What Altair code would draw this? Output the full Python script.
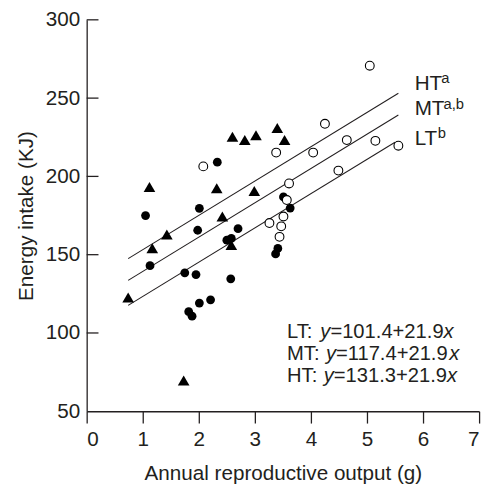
import altair as alt
import pandas as pd

# ---------------- data ----------------
tri_x = [0.74, 1.12, 1.17, 1.43, 1.73, 2.32, 2.42, 2.58, 2.60, 2.82, 3.02, 2.99, 3.40, 3.53]
tri_y = [122.7, 193.2, 154.1, 162.9, 69.7, 192.4, 174.4, 156.2, 225.3, 223.2, 226.3, 190.7, 230.9, 223.2]

fill_x = [1.05, 1.13, 1.75, 1.82, 1.88, 1.95, 2.01, 1.98, 2.01, 2.21, 2.33, 2.50, 2.58, 2.57, 2.70,
          3.37, 3.41, 3.51, 3.63]
fill_y = [175.0, 143.0, 138.4, 113.6, 110.7, 137.3, 179.6, 165.6, 119.1, 121.2, 209.1, 159.3, 160.4,
          134.6, 166.6, 150.5, 154.0, 186.9, 179.8]

open_x = [2.08, 3.38, 4.04, 4.25, 4.64, 5.05, 5.15, 5.56, 4.49, 3.61, 3.57, 3.51, 3.26, 3.47, 3.44]
open_y = [206.4, 215.2, 215.2, 233.6, 223.2, 270.7, 222.7, 219.6, 203.7, 195.5, 184.9, 174.4, 170.2,
          168.1, 161.4]

groups = ["LT", "MT", "HT"]
intercepts = [101.4, 117.4, 131.3]
slope = 21.9
line_start = [0.74, 0.74, 0.74]
line_end = [5.50, 5.56, 5.56]

label_names = ["HT", "MT", "LT"]
label_sups = ["a", "a,b", "b"]
label_x = 5.85
label_y = [255.0, 238.9, 220.0]

eq_names = ["LT", "MT", "HT"]
eq_consts = ["101.4", "117.4", "131.3"]
eq_slope = "21.9"
eq_x = 3.574
eq_y = [96.5, 82.7, 68.8]

X_TICKS = [0, 1, 2, 3, 4, 5, 6, 7]
Y_TICKS = [50, 100, 150, 200, 250, 300]

# ---------------- style ----------------
FONT = "Liberation Sans"
INK = "#231f20"
W = {' ': 278, ':': 278, '=': 584, '+': 584, '.': 278, ',': 278, 'L': 556, 'M': 833,
     'H': 722, 'T': 611, 'y': 500, 'x': 500, 'a': 556, 'b': 556}


def text_width(s, fs):
    return sum(W.get(c, 556) for c in s) * fs / 1000.0


xscale = alt.Scale(domain=[0, 7], nice=False, zero=False)
yscale = alt.Scale(domain=[50, 300], nice=False, zero=False)

X = alt.X("x:Q", scale=xscale,
          axis=alt.Axis(values=X_TICKS, title="Annual reproductive output (g)", tickSize=12,
                        labelPadding=6, titlePadding=13, format="d"))
Y = alt.Y("y:Q", scale=yscale,
          axis=alt.Axis(values=Y_TICKS, title="Energy intake (KJ)", ticks=False,
                        labelPadding=7, titlePadding=9, format="d"))

# lines from the fitted equations
line_rows = []
for g, b, x0, x1 in zip(groups, intercepts, line_start, line_end):
    line_rows.append({"g": g, "x": x0, "y": b + slope * x0})
    line_rows.append({"g": g, "x": x1, "y": b + slope * x1})
lines = alt.Chart(pd.DataFrame(line_rows)).mark_line(color=INK, strokeWidth=1.1).encode(
    x=X, y=Y, detail="g:N")

yticks = alt.Chart(pd.DataFrame({"y": Y_TICKS[1:]})).mark_rule(color=INK, strokeWidth=1.3).encode(
    y=Y, x=alt.value(0), x2=alt.value(12))

tri = alt.Chart(pd.DataFrame({"x": tri_x, "y": tri_y})).mark_point(
    shape="triangle-up", filled=True, color="black", size=140, opacity=1).encode(x=X, y=Y)
fil = alt.Chart(pd.DataFrame({"x": fill_x, "y": fill_y})).mark_circle(
    color="black", size=80, opacity=1).encode(x=X, y=Y)
opn = alt.Chart(pd.DataFrame({"x": open_x, "y": open_y})).mark_point(
    shape="circle", filled=False, fill="white", fillOpacity=1, stroke="black", strokeWidth=1.1,
    size=80, opacity=1).encode(x=X, y=Y)

layers = [lines, yticks, tri, fil, opn]

# group labels with superscripts
LFS, SFS = 21, 15
for name, sup, ly in zip(label_names, label_sups, label_y):
    df = pd.DataFrame({"x": [label_x], "y": [ly]})
    layers.append(alt.Chart(df).mark_text(text=name, align="left", baseline="alphabetic",
                                          font=FONT, fontSize=LFS, color=INK).encode(x=X, y=Y))
    layers.append(alt.Chart(df).mark_text(text=sup, align="left", baseline="alphabetic",
                                          font=FONT, fontSize=SFS, color=INK,
                                          dx=text_width(name, LFS) - 1, dy=-7).encode(x=X, y=Y))

# equations with italic y and x
EFS = 20.5
for name, c, ey in zip(eq_names, eq_consts, eq_y):
    df = pd.DataFrame({"x": [eq_x], "y": [ey]})
    segs = [(name + ": ", "normal", -1.5), ("y", "italic", 0.0), ("=" + c + "+" + eq_slope, "normal", 0.0),
            ("x", "italic", 0.0)]
    off = 0.0
    for s, st, adj in segs:
        layers.append(alt.Chart(df).mark_text(text=s, align="left", baseline="alphabetic",
                                              font=FONT, fontSize=EFS, fontStyle=st, color=INK,
                                              dx=off).encode(x=X, y=Y))
        off += text_width(s, EFS) + adj

chart = alt.layer(*layers).properties(
    width=399, height=398,
    autosize=alt.AutoSizeParams(type="none"),
    padding={"left": 80, "top": 8, "right": 6, "bottom": 74},
).configure_view(stroke=None).configure_axis(
    grid=False, domainColor=INK, domainWidth=1.3, tickColor=INK, tickWidth=1.3,
    labelFont=FONT, labelFontSize=21, labelColor=INK,
    titleFont=FONT, titleFontSize=21, titleFontWeight="normal", titleColor=INK,
)

chart.save("out.html", embed_options={"renderer": "svg", "actions": False})
